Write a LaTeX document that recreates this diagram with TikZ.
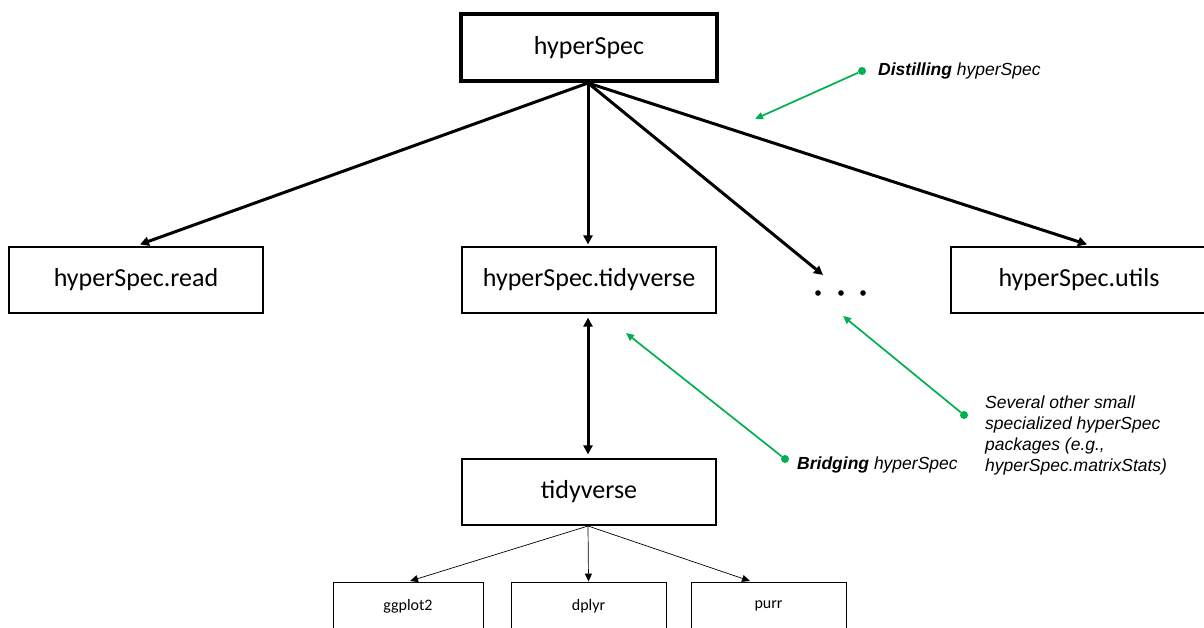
\documentclass[tikz,border=0pt]{standalone}
\usepackage{fontspec}
\setmainfont{Liberation Sans}
\newfontfamily\boxfont{Carlito}
\usetikzlibrary{arrows.meta,calc}
\definecolor{pgreen}{RGB}{0,176,80}
\begin{document}
\begin{tikzpicture}[x=1pt,y=-1pt,
  bigbox/.style={draw=black,line width=1.2pt,minimum width=254pt,minimum height=66pt,inner sep=0pt,font=\boxfont\fontsize{26}{30}\selectfont},
  smallbox/.style={draw=black,line width=0.9pt,minimum width=150pt,minimum height=48pt,inner sep=0pt,font=\boxfont\fontsize{16}{19}\selectfont},
  mainarrow/.style={line width=3pt,-{Triangle[length=9pt,width=9pt]}},
  thinarrow/.style={line width=0.7pt,-{Triangle[length=8pt,width=7pt]}},
  greenarrow/.style={draw=pgreen,line width=1.7pt,-{Triangle[length=8pt,width=7pt]}},
  greendot/.style={circle,fill=pgreen,inner sep=0pt,minimum size=8pt},
  anno/.style={font=\fontsize{17.5}{21}\selectfont\itshape,inner sep=0pt,align=left}]
\useasboundingbox (0,0) rectangle (1204,627);
\fill[white] (0,0) rectangle (1204,627);
% boxes
\node[bigbox,line width=3.5pt,minimum width=256pt,minimum height=67pt] (hs) at (589,47.5) {hyperSpec};
\node[bigbox] (read) at (136,280) {hyperSpec.read};
\node[bigbox] (tidy) at (589,280) {hyperSpec.tidyverse};
\node[bigbox,minimum width=256pt] (utils) at (1079,280) {hyperSpec.utils};
\node[bigbox] (tv) at (589,492) {tidyverse};
\node[smallbox] (gg) at (408,606) {ggplot2};
\node[smallbox,minimum width=155pt] (dp) at (588.5,606) {dplyr};
\node[smallbox,minimum width=155pt] (pu) at (768.5,606) {purr};
% dots
\foreach \xx in {818,841,863} \fill (\xx,293) circle (2.8pt);
\coordinate (dotsin) at (823,275);
\coordinate (dotsanno) at (843,316);
% main arrows
\coordinate (hsb) at (588,83);
\draw[mainarrow] (hsb) -- ($(read.north)+(4,-2)$);
\draw[mainarrow] (hsb) -- ($(tidy.north)+(-1,-2)$);
\draw[mainarrow] (hsb) -- (dotsin);
\draw[mainarrow] (hsb) -- ($(utils.north)+(8,-2)$);
% double arrow
\draw[line width=3pt,{Triangle[length=9pt,width=9pt]}-{Triangle[length=9pt,width=9pt]}] ($(tidy.south)+(-1,4)$) -- ($(tv.north)+(-1,-4)$);
% tidyverse fan
\coordinate (tvb) at (588,526);
\draw[thinarrow] (tvb) -- (410,581);
\draw[thinarrow] (tvb) -- (dp.north);
\draw[thinarrow] (tvb) -- (750,581);
% annotations
\node[greendot] (d1) at (862,71) {};
\coordinate (t1) at (755,119);
\draw[greenarrow] (d1) -- (t1);
\node[anno,anchor=west] (a1) at (878,71) {\textbf{Distilling} hyperSpec};
\node[greendot] (d2) at (785,459) {};
\coordinate (t2) at (626,333);
\draw[greenarrow] (d2) -- (t2);
\node[anno,anchor=west] (a2) at (797,465) {\textbf{Bridging} hyperSpec};
\node[greendot] (d3) at (964,415) {};
\draw[greenarrow] (d3) -- (dotsanno);
\node[anno,anchor=north west] (a3) at (985,396) {Several other small\\specialized hyperSpec\\packages (e.g.,\\hyperSpec.matrixStats)};
\end{tikzpicture}
\end{document}
